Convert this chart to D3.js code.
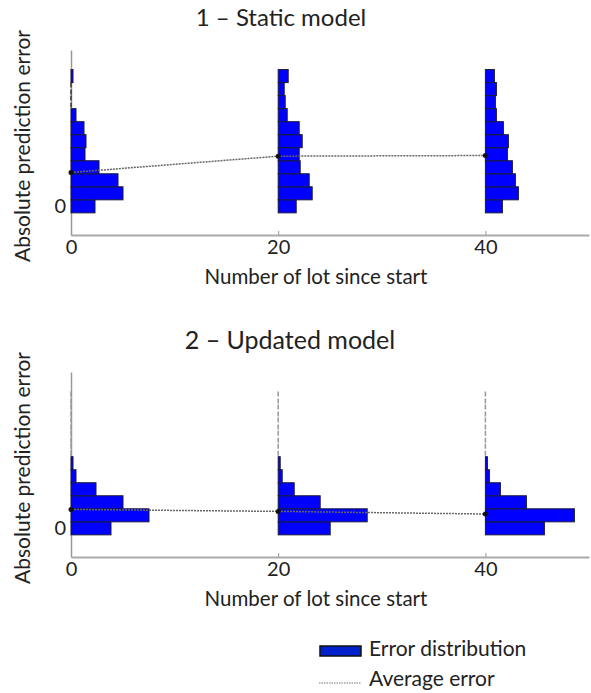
<!DOCTYPE html>
<html>
<head>
<meta charset="utf-8">
<script src="https://cdn.jsdelivr.net/npm/d3@7"></script>
<style>
  body { margin: 0; background: #fff; }
  svg text { font-family: Lato, "Open Sans", sans-serif; fill: #222; }
</style>
</head>
<body>
<svg id="chart" width="591" height="693"></svg>
<script>
// lots where the error distribution was sampled
const lots = [0, 20, 40];
const xTicks = [0, 20, 40];
const yTicks = [0];
// error bins, from lowest error (0) upward
const bins = [0, 1, 2, 3, 4, 5, 6, 7, 8, 9, 10];

// 1 - static model: counts per bin at each lot
const staticCounts = [
  [12, 26, 23.5, 14, 7, 7.5, 6.5, 2.5, 0, 0, 1],
  [9, 17, 15.5, 11, 10.5, 12, 10.5, 4.5, 3.5, 3, 5],
  [8.5, 16.5, 15, 13.5, 11, 11.5, 9, 5.5, 5, 5.5, 4.5],
];
const staticAvg = [2.6, 3.85, 3.9];

// 2 - updated model
const updatedCounts = [
  [20, 39, 26, 12.5, 2.5, 1, 0, 0, 0, 0, 0],
  [26, 44.5, 21, 8, 2, 1, 0, 0, 0, 0, 0],
  [29.5, 44.5, 20.5, 7.5, 2, 1, 0, 0, 0, 0, 0],
];
const updatedAvg = [1.45, 1.3, 1.1];

const panels = [
  { title: '1 \u2013 Static  model', counts: staticCounts, avg: staticAvg, top: 0, titleX: 281, titleSize: 24, emptyStroke: '#333' },
  { title: '2 \u2013  Updated model', counts: updatedCounts, avg: updatedAvg, top: 322, titleX: 290, titleSize: 25, emptyStroke: '#999' },
];

const svg = d3.select('#chart');

const x = d3.scaleLinear().domain([0, 50]).range([71, 589]);
const y = d3.scaleLinear().domain([-2.2, 12]).range([235, 50]);
const barLen = d3.scaleLinear().domain([0, 1]).range([0, 2]);

panels.forEach(p => {
  const g = svg.append('g').attr('transform', `translate(0,${p.top})`);

  g.append('text')
    .attr('x', p.titleX).attr('y', 18).attr('dy', '0.35em')
    .attr('text-anchor', 'middle')
    .style('font-size', p.titleSize + 'px')
    .text(p.title);

  // x axis
  const xAxis = g.append('g')
    .attr('transform', `translate(0,${y.range()[0]})`)
    .call(d3.axisBottom(x).tickValues(xTicks).tickSizeInner(-4).tickSizeOuter(0).tickPadding(5));
  xAxis.select('.domain').attr('stroke', '#aaa').attr('stroke-width', 2);
  xAxis.selectAll('.tick line').attr('stroke', '#999');
  xAxis.selectAll('.tick text').style('font-size', '20px').style('font-family', 'Lato').attr('fill', '#222');

  // y axis
  const yAxis = g.append('g')
    .attr('transform', `translate(${x(0)},0)`)
    .call(d3.axisLeft(y).tickValues(yTicks).tickSize(0).tickPadding(5));
  yAxis.select('.domain').attr('stroke', '#999').attr('stroke-width', 1.5);
  yAxis.selectAll('.tick text').style('font-size', '20px').style('font-family', 'Lato').attr('fill', '#222');

  g.append('text')
    .attr('transform', `translate(23,146) rotate(-90)`)
    .attr('text-anchor', 'middle').attr('dy', '0.35em')
    .style('font-size', '21px')
    .text('Absolute prediction error');

  g.append('text')
    .attr('x', 316).attr('y', 277).attr('dy', '0.35em')
    .attr('text-anchor', 'middle')
    .style('font-size', '20.5px')
    .text('Number of lot since start');

  // histograms
  lots.forEach((lot, li) => {
    const rows = bins.map((b, bi) => ({ bin: b, count: p.counts[li][bi] }));
    const hist = g.append('g');
    hist.selectAll('rect')
      .data(rows.filter(d => d.count > 0))
      .join('rect')
      .attr('x', x(lot))
      .attr('y', d => y(d.bin + 0.5))
      .attr('width', d => barLen(d.count))
      .attr('height', d => y(d.bin - 0.5) - y(d.bin + 0.5))
      .attr('fill', '#0000ff')
      .attr('stroke', '#1a1a3a')
      .attr('stroke-width', 1);
    // empty bins collapse to a thin line on the lot position
    hist.selectAll('line')
      .data(rows.filter(d => d.count === 0))
      .join('line')
      .attr('x1', x(lot)).attr('x2', x(lot))
      .attr('y1', d => y(d.bin + 0.5))
      .attr('y2', d => y(d.bin - 0.5))
      .attr('stroke', p.emptyStroke)
      .attr('stroke-width', 1.5)
      .attr('stroke-dasharray', '5,2');
  });

  // average error
  const avgPts = lots.map((lot, i) => ({ lot, v: p.avg[i] }));
  g.append('path')
    .datum(avgPts)
    .attr('fill', 'none')
    .attr('stroke', '#666')
    .attr('stroke-width', 1.5)
    .attr('stroke-dasharray', '2,1')
    .attr('d', d3.line().x(d => x(d.lot)).y(d => y(d.v)));
  g.append('g').selectAll('circle')
    .data(avgPts)
    .join('circle')
    .attr('cx', d => x(d.lot))
    .attr('cy', d => y(d.v))
    .attr('r', 2.5)
    .attr('fill', '#111');
});

// legend
const legend = svg.append('g');
legend.append('rect')
  .attr('x', 320).attr('y', 646).attr('width', 41).attr('height', 10)
  .attr('fill', '#0022cc').attr('stroke', '#111').attr('stroke-width', 1.5);
legend.append('text')
  .attr('x', 369).attr('y', 649).attr('dy', '0.35em')
  .style('font-size', '21px')
  .text('Error distribution');
legend.append('line')
  .attr('x1', 319).attr('x2', 361).attr('y1', 683).attr('y2', 683)
  .attr('stroke', '#777').attr('stroke-width', 1.2).attr('stroke-dasharray', '1.5,1');
legend.append('text')
  .attr('x', 369).attr('y', 679).attr('dy', '0.35em')
  .style('font-size', '21px')
  .text('Average error');
</script>
</body>
</html>
